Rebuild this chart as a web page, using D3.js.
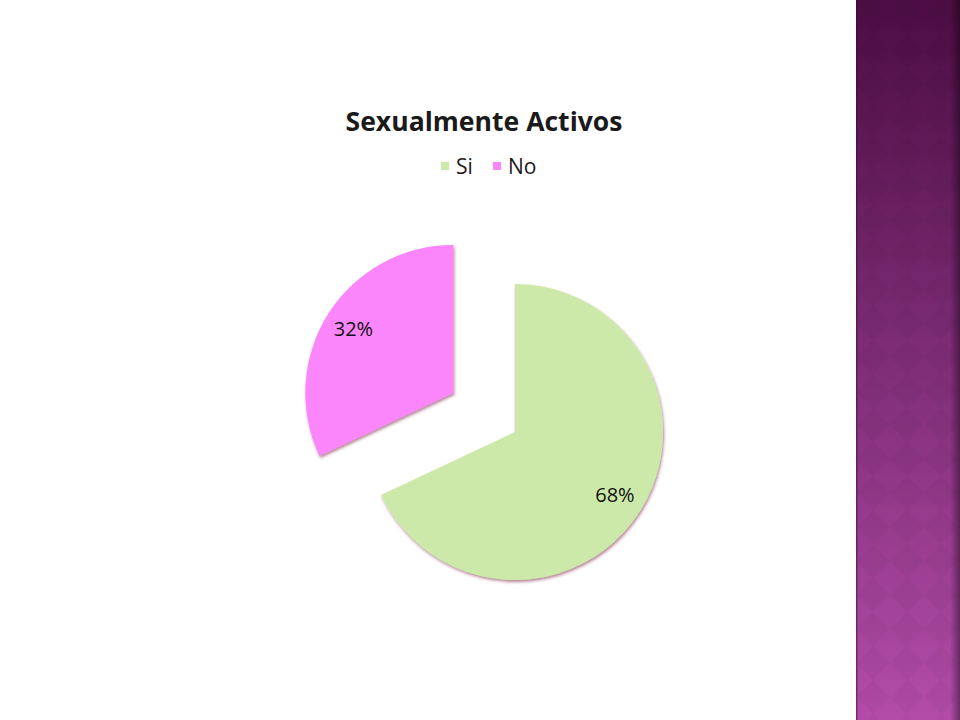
<!DOCTYPE html>
<html><head><meta charset="utf-8">
<script src="https://cdn.jsdelivr.net/npm/d3@7"></script>
<style>html,body{margin:0;padding:0;background:#fff;}svg{display:block;}</style>
</head><body>
<svg id="c" width="960" height="720"></svg>
<script>
const categories = ["Si", "No"];
const values = [68, 32];
const labels = ["68%", "32%"];
const colors = ["#cde9a9", "#fb86fb"];
const title = "Sexualmente Activos";

const svg = d3.select("#c");
const defs = svg.append("defs");

const g1 = defs.append("linearGradient").attr("id","band").attr("x1",0).attr("y1",0).attr("x2",0).attr("y2",1);
g1.append("stop").attr("offset","0%").attr("stop-color","#4c0d43");
g1.append("stop").attr("offset","45%").attr("stop-color","#7a2a72");
g1.append("stop").attr("offset","100%").attr("stop-color","#b34ca9");
const g2 = defs.append("linearGradient").attr("id","edge").attr("x1",0).attr("y1",0).attr("x2",1).attr("y2",0);
g2.append("stop").attr("offset","0%").attr("stop-color","#000").attr("stop-opacity",0);
g2.append("stop").attr("offset","100%").attr("stop-color","#000").attr("stop-opacity",0.4);
const pat = defs.append("pattern").attr("id","dia").attr("patternUnits","userSpaceOnUse")
  .attr("width",34).attr("height",34).attr("x",856);
pat.append("path").attr("d","M17,0 L34,17 L17,34 L0,17 Z").attr("fill","#000").attr("opacity",0.035);

const sh = defs.append("filter").attr("id","sh").attr("x","-20%").attr("y","-20%").attr("width","140%").attr("height","140%");
sh.append("feGaussianBlur").attr("in","SourceAlpha").attr("stdDeviation",1.5).attr("result","b");
sh.append("feOffset").attr("in","b").attr("dx",1).attr("dy",2).attr("result","o");
sh.append("feFlood").attr("flood-color","#7a2040").attr("flood-opacity",0.55);
sh.append("feComposite").attr("in2","o").attr("operator","in").attr("result","s");
const m = sh.append("feMerge");
m.append("feMergeNode").attr("in","s");
m.append("feMergeNode").attr("in","SourceGraphic");

svg.append("rect").attr("x",856).attr("y",0).attr("width",104).attr("height",720).attr("fill","url(#band)");
svg.append("rect").attr("x",856).attr("y",0).attr("width",104).attr("height",720).attr("fill","url(#dia)");
svg.append("rect").attr("x",950).attr("y",0).attr("width",10).attr("height",720).attr("fill","url(#edge)");
svg.append("rect").attr("x",856).attr("y",0).attr("width",1.5).attr("height",720).attr("fill","#3a0a33").attr("opacity",0.5);

svg.append("text").attr("x",484).attr("y",131).attr("text-anchor","middle")
  .attr("font-family","Open Sans, sans-serif").attr("font-weight","bold").attr("font-size",27)
  .attr("textLength",277).attr("lengthAdjust","spacingAndGlyphs")
  .attr("fill","#1a1a1a").text(title);

const legX = [441, 493];
const leg = svg.append("g");
categories.forEach((c,i)=>{
  leg.append("rect").attr("x",legX[i]).attr("y",162).attr("width",8).attr("height",8).attr("fill",colors[i]);
  leg.append("text").attr("x",legX[i]+15).attr("y",174).attr("font-family","Open Sans, sans-serif")
    .attr("font-size",21).attr("fill","#1a1a1a").text(c);
});

const cx = 515, cy = 432, r = 148, explode = 73;
const pie = d3.pie().sort(null).value(d=>d)(values);
const arc = d3.arc().innerRadius(0).outerRadius(r);
const offsets = [0, explode];
const g = svg.append("g").attr("transform",`translate(${cx},${cy})`);
pie.forEach((p,i)=>{
  const mid = (p.startAngle+p.endAngle)/2;
  const dx = Math.sin(mid)*offsets[i], dy = -Math.cos(mid)*offsets[i];
  const sg = g.append("g").attr("transform",`translate(${dx},${dy})`);
  sg.append("path").attr("d",arc(p)).attr("fill",colors[i]).attr("filter","url(#sh)");
});
const labArc = d3.arc().innerRadius(r*0.8).outerRadius(r*0.8);
pie.forEach((p,i)=>{
  const mid = (p.startAngle+p.endAngle)/2;
  const dx = Math.sin(mid)*offsets[i], dy = -Math.cos(mid)*offsets[i];
  const [x,y] = labArc.centroid(p);
  g.append("text").attr("x",x+dx).attr("y",y+dy).attr("text-anchor","middle").attr("dy","0.35em")
    .attr("font-family","Open Sans, sans-serif").attr("font-size",20).attr("fill","#111").text(labels[i]);
});
</script>
</body></html>
